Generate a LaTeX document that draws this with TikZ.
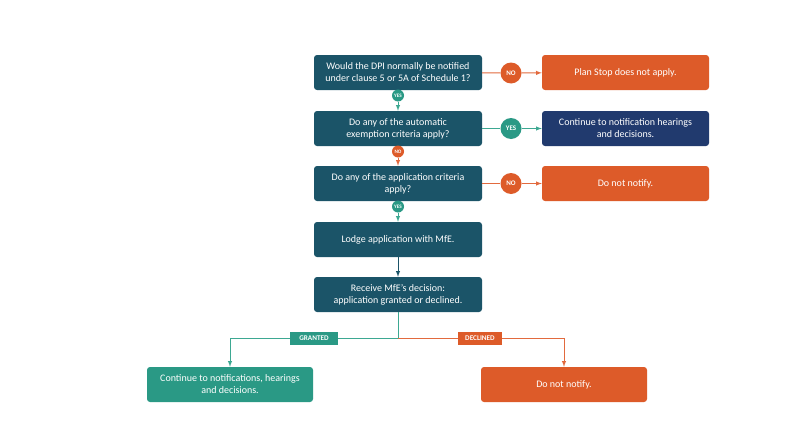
\documentclass[tikz,border=0pt]{standalone}
\usepackage{fontspec}
\setmainfont{Carlito}
\usetikzlibrary{arrows}

\definecolor{deepteal}{HTML}{1B5468}
\definecolor{burnt}{HTML}{DD5B29}
\definecolor{navy}{HTML}{213A6E}
\definecolor{jade}{HTML}{2A9985}
\definecolor{jadeline}{HTML}{3DA892}
\definecolor{burntline}{HTML}{E26A3E}

\begin{document}
\begin{tikzpicture}[x=1pt,y=-1pt,>=latex]
	\tikzstyle{every node} = [text=white,align=center,inner sep=1pt];
	\tikzstyle{qbox} = [rectangle,rounded corners=3pt,minimum width=168pt,minimum height=35pt,font=\fontsize{10}{12}\selectfont];
	\tikzstyle{bigdot} = [circle,minimum size=21pt,font=\fontsize{7}{7}\selectfont\bfseries];
	\tikzstyle{smalldot} = [circle,minimum size=12pt,inner sep=0pt,font=\fontsize{5.2}{5.2}\selectfont\bfseries];
	\tikzstyle{tag} = [rectangle,minimum width=48pt,minimum height=13pt,font=\fontsize{7.2}{7.2}\selectfont\bfseries];
	\tikzstyle{yesline} = [draw=jadeline,line width=1pt];
	\tikzstyle{noline} = [draw=burntline,line width=1pt];
	\useasboundingbox[fill=white] (0,0) rectangle (795,447);

	% main column
	\node[qbox,fill=deepteal] (dpi) at (398,72.5) {Would the DPI normally be notified\\under clause 5 or 5A of Schedule 1?};
	\node[qbox,fill=deepteal] (exempt) at (398,128.5) {Do any of the automatic\\exemption criteria apply?};
	\node[qbox,fill=deepteal] (criteria) at (398,183.5) {Do any of the application criteria\\apply?};
	\node[qbox,fill=deepteal] (lodge) at (398,239.5) {Lodge application with MfE.};
	\node[qbox,fill=deepteal] (decision) at (398,294.5) {Receive MfE's decision:\\application granted or declined.};

	% right column
	\node[qbox,minimum width=167pt,fill=burnt] (stop) at (625.5,72.5) {Plan Stop does not apply.};
	\node[qbox,minimum width=167pt,fill=navy] (notify) at (625.5,128.5) {Continue to notification hearings\\and decisions.};
	\node[qbox,minimum width=167pt,fill=burnt] (nonotify) at (625.5,183.5) {Do not notify.};

	% bottom row
	\node[qbox,minimum width=166pt,fill=jade] (carryon) at (230,384.5) {Continue to notifications, hearings\\and decisions.};
	\node[qbox,minimum width=166pt,fill=burnt] (refused) at (564,384.5) {Do not notify.};

	% answer dots
	\node[bigdot,fill=burnt] (no1) at (511,73) {NO};
	\node[bigdot,fill=jade] (yes2) at (511,128.5) {YES};
	\node[bigdot,fill=burnt] (no3) at (511,183.5) {NO};
	\node[smalldot,fill=jade] (yes1) at (398,95.5) {YES};
	\node[smalldot,fill=burnt] (no2) at (398,151.5) {NO};
	\node[smalldot,fill=jade] (yes3) at (398,206.5) {YES};

	\draw[noline] (dpi) -- (no1);
	\draw[noline,->] (no1) -- (stop);
	\draw[yesline] (exempt) -- (yes2);
	\draw[yesline,->] (yes2) -- (notify);
	\draw[noline] (criteria) -- (no3);
	\draw[noline,->] (no3) -- (nonotify);
	\draw[yesline,->] (yes1) -- (exempt);
	\draw[noline,->] (no2) -- (criteria);
	\draw[yesline,->] (yes3) -- (lodge);
	\draw[draw=deepteal,line width=1pt,->] (lodge) -- (decision);

	% outcome split
	\coordinate (split) at (398,338);
	\node[tag,fill=jade] (granted) at (314,338) {GRANTED};
	\node[tag,minimum width=44pt,fill=burnt] (declined) at (480,338) {DECLINED};
	\draw[yesline] (decision) -- (split);
	\draw[yesline] (split) -- (granted);
	\draw[yesline,->] (granted) -| (carryon);
	\draw[noline] (split) -- (declined);
	\draw[noline,->] (declined) -| (refused);
\end{tikzpicture}
\end{document}
